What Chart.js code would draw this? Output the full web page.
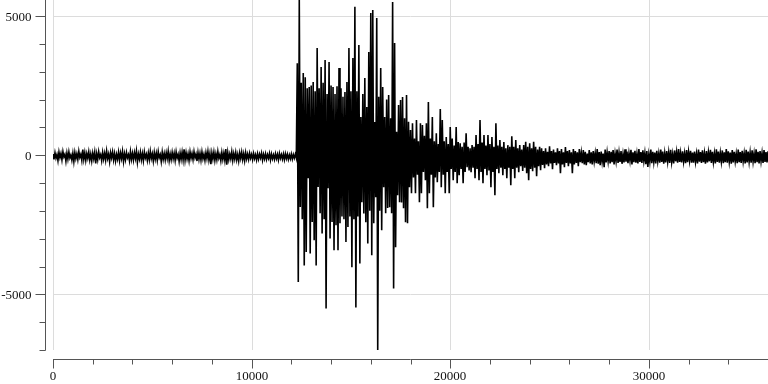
<!DOCTYPE html>
<html><head><meta charset="utf-8">
<script src="https://cdn.jsdelivr.net/npm/chart.js@4"></script>
<style>html,body{margin:0;padding:0;background:#fff}#wrap{width:768px;height:384px}</style>
</head><body><div id="wrap"><canvas id="c" width="768" height="384"></canvas></div>
<script>
// sample spacing of the recording (samples per value)
const sampleStep = 50;
// pre-event noise
const noiseBefore = [
  40, -150, 90, -110, 20, -200, 110, -90, 60, -170, 130, -60, 30, -220, 80, -140, 120, -100, 10, -180,
  70, -230, 100, -120, 50, -160, 140, -80, 30, -190, 200, -150, 90, -190, 60, -110, 120, -170, 40, -210,
  80, -130, 110, -300, 50, -160, 130, -90, 20, -200, 100, -140, 70, -180, 150, -120, 40, -230, 90, -100,
  120, -170, 60, -210, 30, -140, 110, -190, 80, -120, 140, -230, 50, -160, 100, -90, 20, -200, 130, -150,
  70, -180, 90, -120, 150, -250, 40, -140, 110, -170, 60, -200, 120, -100, 30, -190, 80, -160, 140, -120,
  50, -210, 100, -140, 70, -180, 130, -90, 20, -230, 110, -150, 60, -170, 90, -120, 140, -200, 40, -160,
  100, -130, 70, -190, 120, -100, 30, -220, 80, -150, 110, -170, 210, -180, 90, -140, 50, -200, 120, -110,
  60, -160, 130, -90, 40, -210, 100, -150, 70, -180, 120, -130, 30, -190, 90, -120, 140, -170, 60, -320,
  80, -140, 110, -190, 50, -160, 130, -110, 20, -200, 100, -150, 70, -180, 220, -340, 90, -160, 40, -130,
  120, -190, 60, -140, 100, -170, 30, -210, 80, -120, 110, -160, 50, -200, 90, -130, 40, -150, 70, -110,
  30, -160, 60, -120, 20, -170, 50, -140, 40, -100, 70, -180, 30, -130, 50, -150, 20, -110, 60, -170,
  40, -130, 10, -150, 50, -120, 30, -170, 60, -110, 20, -140, 40, -160, 50, -120, 30, -150, 10, -130,
  40, -140, 20, -110, 30, -100
];
// main event and coda
const eventTrace = [
  3300, -4560, 5575, -1860, 2600, -2300, 2950, -3960, 2800, -3480,
  2400, -830, 2450, -3530, 2500, -2400, 2630, -3060, 2300, -3960,
  3850, -1140, 2400, -2090, 3170, -2810, 2600, -2300, 3420, -5510,
  2200, -1190, 3350, -2990, 2500, -2400, 2450, -3420, 2200, -2520,
  2480, -3420, 3130, -2450, 2400, -2200, 2100, -2300, 2270, -3120,
  2630, -2580, 3850, -2200, 2300, -4030, 3490, -2300, 5330, -5470,
  2300, -2200, 3960, -3890, 1370, -1690, 2200, -2100, 2770, -2410,
  1730, -3170, 3710, -2000, 5110, -3600, 5220, -2450, 1190, -1510,
  4930, -7000, 2100, -2000, 3130, -2700, 2450, -1150, 1370, -2090,
  2000, -1900, 2160, -1870, 1330, -2090, 5500, -4790, 4030, -3310,
  840, -1440, 1800, -1690, 1980, -1700, 2090, -1910, 1330, -2410,
  2160, -2450, 1200,
  -1150, 900, -1370, 1150, -800, 600, -1370, 1260, -700, 500,
  -1690, 1150, -1370, 1080, -600, 700, -900, 1150, -1910, 1910,
  -1370, 600, -700, 1370, -1870, 500, -800, 790, -970, 400,
  -600, 1660, -1150, 1260, -700, 500, -1370, 650, -600, 400,
  -1370, 1010, -500, 600, -900, 350, -600, 1010, -1010, 470,
  -720, 430, -500, 300, -1010, 450, -600, 790, -430, 300,
  -550, 250, -610, 360, -450, 300, -830, 720, -500, 400,
  -900, 1260, -600, 450, -1010, 720, -500, 350, -720, 720,
  -550, 400, -1150, 650, -600, 300, -1440, 1150, -500, 350,
  -650, 540, -450, 300, -720, 470, -500, 250, -830, 360,
  -450, 300, -1080, 680, -500, 300, -830, 540, -450, 250,
  -610, 360, -400, 200, -570, 360, -450,
  480, -650, 300, -900, 430, -500, 250, -580, 480, -450,
  300, -760, 200, -400, 300, -540, 250, -350, 150, -470,
  250, -330, 120, -400, 320, -300, 150, -500, 200, -280,
  100, -360, 250, -300, 150, -650, 220, -330, 100, -430,
  290, -280, 150, -400, 180, -300, 100, -650, 220, -330,
  150, -280, 100, -400, 220, -250, 80, -290, 180, -330,
  120, -360, 60, -250, 180, -300, 100, -330, 150, -220,
  70, -290, 220, -310, 110, -360, 130, -240, 60, -430,
  200, -260, 100, -220, 150, -300
];
// late background noise
const noiseAfter = [
  120, -250, 180, -330, 60, -220, 200, -280, 90, -240, 150, -310, 40, -260, 210, -230, 130, -290, 70, -200,
  190, -330, 100, -250, 160, -270, 50, -300, 220, -240, 110, -280, 170, -210, 80, -320, 150, -420, 30, -230,
  200, -290, 120, -250, 90, -300, 160, -220, 60, -270, 200, -240, 130, -310, 70, -260, 150, -230, 100, -280,
  190, -250, 40, -300, 170, -220, 110, -270, 220, -240, 80, -260, 140, -230, 60, -290, 180, -250, 120, -200,
  160, -270, 90, -270, 130, -240, 50, -300, 200, -230, 110, -280, 170, -250, 70, -310, 150, -260, 100, -220,
  190, -280, 120, -250, 60, -300, 210, -240, 130, -270, 80, -230, 170, -290, 100, -250, 220, -270, 140, -240,
  90, -310, 180, -260, 120, -230, 50, -290, 200, -250, 110, -280, 160, -220, 70, -300, 190, -260, 130, -240,
  100, -270, 170, -230, 60, -290, 210, -250, 120, -300, 150, -220, 80, -280, 180, -240, 110, -260, 140
];
const amplitude = noiseBefore.concat(eventTrace, noiseAfter);

const xMin = 0, xMax = 36000;
const yMin = -7000, yMax = 5575;
const xLabelTicks = [0, 10000, 20000, 30000];
const yLabelTicks = [-5000, 0, 5000];
const xMinorStep = 2000;
const yMinorStep = 1000;

const points = amplitude.map((v, i) => ({ x: i * sampleStep, y: v }));

const FONT = "13px 'Liberation Serif', 'Times New Roman', serif";
const GRID = '#dcdcdc';
const AXIS = '#555';

const offsetAxes = {
  id: 'offsetAxes',
  beforeDatasetsDraw(chart) {
    const { ctx, chartArea: a, scales: { x, y } } = chart;
    ctx.save();
    ctx.strokeStyle = GRID;
    ctx.lineWidth = 1;
    ctx.beginPath();
    xLabelTicks.forEach(v => {
      const px = Math.round(x.getPixelForValue(v)) + 0.5;
      ctx.moveTo(px, a.top); ctx.lineTo(px, a.bottom);
    });
    yLabelTicks.forEach(v => {
      const py = Math.round(y.getPixelForValue(v)) + 0.5;
      ctx.moveTo(a.left, py); ctx.lineTo(a.right, py);
    });
    ctx.stroke();
    ctx.restore();
  },
  afterDraw(chart) {
    const { ctx, chartArea: a, scales: { x, y } } = chart;
    ctx.save();
    ctx.strokeStyle = AXIS;
    ctx.lineWidth = 1;
    ctx.beginPath();
    const ax = a.left - 8 + 0.5;
    ctx.moveTo(ax, a.top);
    ctx.lineTo(ax, Math.round(y.getPixelForValue(yMin)) + 0.5);
    for (let v = yMin; v <= yLabelTicks[yLabelTicks.length - 1]; v += yMinorStep) {
      const py = Math.round(y.getPixelForValue(v)) + 0.5;
      const len = yLabelTicks.includes(v) ? 10 : 6;
      ctx.moveTo(ax, py); ctx.lineTo(ax - len, py);
    }
    const ay = a.bottom + 9 + 0.5;
    ctx.moveTo(a.left, ay); ctx.lineTo(a.right, ay);
    for (let v = xMin; v <= xMax; v += xMinorStep) {
      const px = Math.round(x.getPixelForValue(v)) + 0.5;
      const len = xLabelTicks.includes(v) ? 9 : 5;
      ctx.moveTo(px, ay); ctx.lineTo(px, ay + len);
    }
    ctx.stroke();
    ctx.fillStyle = '#111';
    ctx.font = FONT;
    ctx.textBaseline = 'alphabetic';
    ctx.textAlign = 'right';
    yLabelTicks.forEach(v => {
      ctx.fillText(String(v), ax - 14, Math.round(y.getPixelForValue(v)) + 5);
    });
    ctx.textAlign = 'center';
    xLabelTicks.forEach(v => {
      ctx.fillText(String(v), Math.round(x.getPixelForValue(v)), ay + 20);
    });
    ctx.restore();
  }
};

new Chart(document.getElementById('c'), {
  type: 'line',
  data: { datasets: [{ data: points, borderColor: '#000', borderWidth: 1.6, pointRadius: 0, tension: 0, fill: false }] },
  options: {
    responsive: false, animation: false, devicePixelRatio: 1,
    layout: { padding: 0 },
    plugins: { legend: { display: false }, tooltip: { enabled: false } },
    scales: {
      x: {
        type: 'linear', min: xMin, max: xMax,
        afterFit(s) { s.height = 34; },
        border: { display: false },
        grid: { display: false },
        ticks: { display: false, stepSize: 10000 }
      },
      y: {
        type: 'linear', min: yMin, max: yMax,
        afterFit(s) { s.width = 53; },
        border: { display: false },
        grid: { display: false },
        ticks: { display: false, stepSize: 5000 }
      }
    }
  },
  plugins: [offsetAxes]
});
</script></body></html>
